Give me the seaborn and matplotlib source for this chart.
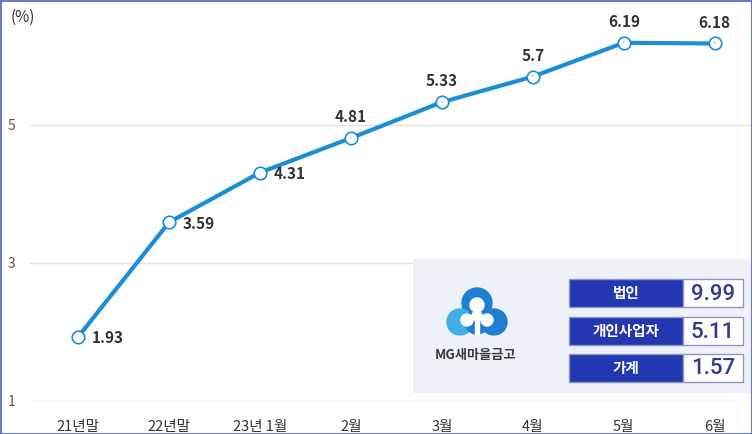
import pandas as pd
import matplotlib.pyplot as plt
import seaborn as sns
from matplotlib.patches import Rectangle, Circle

periods = ['21년말', '22년말', '23년 1월', '2월', '3월', '4월', '5월', '6월']
rates = [1.93, 3.59, 4.31, 4.81, 5.33, 5.7, 6.19, 6.18]
label_side = ['right', 'right', 'right', 'top', 'top', 'top', 'top', 'top']

box_names = ['법인', '개인사업자', '가계']
box_values = ['9.99', '5.11', '1.57']

sns.set_style('white')
plt.rcParams['font.family'] = ['Noto Sans CJK KR', 'DejaVu Sans']

df = pd.DataFrame({'period': periods, 'rate': rates})
df['x'] = range(len(df))

W, H = 752, 434
fig = plt.figure(figsize=(W / 100, H / 100), dpi=100)
ax = fig.add_axes([30 / W, 33 / H, 722 / W, 401 / H])

line_col = '#1b8ed6'
sns.lineplot(data=df, x='x', y='rate', ax=ax, color=line_col, linewidth=3,
             marker='o', markersize=9, markerfacecolor='white',
             markeredgecolor=line_col, markeredgewidth=1.2)

ax.set_xlim(-0.53, 7.41)
ax.set_ylim(1, 6.81)
ax.set_yticks([1, 3, 5])
ax.set_yticklabels(['1', '3', '5'], color='#555555', fontsize=10)
ax.tick_params(axis='y', length=0, pad=16)
for lab in ax.get_yticklabels():
    lab.set_horizontalalignment('left')
ax.set_xticks(df['x'])
ax.set_xticklabels(periods, fontsize=10.5, color='#333333')
ax.tick_params(axis='x', length=0, pad=13.5)
ax.set_xlabel('')
ax.set_ylabel('')
ax.grid(axis='y', color='#e3e3e3', linewidth=1)
for s in ax.spines.values():
    s.set_visible(False)

for xi, v, side in zip(df['x'], rates, label_side):
    txt = f'{v:g}'
    if side == 'right':
        ax.annotate(txt, (xi, v), xytext=(10, -1), textcoords='offset points',
                    ha='left', va='center', fontsize=11, fontweight='bold', color='#333333')
    else:
        ax.annotate(txt, (xi, v), xytext=(0, 15), textcoords='offset points',
                    ha='center', va='center', fontsize=11, fontweight='bold', color='#333333',
                    arrowprops=dict(arrowstyle='-', color='#9a9a9a', lw=0.6,
                                    shrinkA=6, shrinkB=4))

fig.text(11 / W, 1 - 17 / H, '(%)', fontsize=11, color='#333333', va='center')

# overlay panel in pixel coordinates
ov = fig.add_axes([0, 0, 1, 1], zorder=5)
ov.set_xlim(0, W)
ov.set_ylim(H, 0)
ov.axis('off')
bg = '#eef1f7'
ov.add_patch(Rectangle((413, 259), 339, 134, facecolor=bg, edgecolor='none'))

# logo: blue cloud ring with white trefoil inside
blue_a, blue_b = '#1f7fd0', '#3fb0e6'
ov.add_patch(Circle((477, 303), 15, color=blue_a))
ov.add_patch(Circle((460, 322), 13, color=blue_b))
ov.add_patch(Circle((494, 322), 13, color=blue_a))
ov.add_patch(Circle((477, 322), 12, color=blue_a))
ov.add_patch(Circle((477, 305), 7, color='white'))
ov.add_patch(Circle((467, 320), 6, color='white'))
ov.add_patch(Circle((487, 320), 6, color='white'))
ov.add_patch(Circle((477, 316), 5, color='white'))
ov.add_patch(Rectangle((475, 316), 4, 22, color='white'))
ov.add_patch(Rectangle((444, 336), 66, 8, color=bg))
ov.text(475, 355, 'MG새마을금고', ha='center', va='center', fontsize=9.5,
        fontweight='bold', color='#3a3a3a')

row_y = [293, 331, 368]
for yc, name, val in zip(row_y, box_names, box_values):
    ov.add_patch(Rectangle((569, yc - 14), 114, 28, facecolor='#2338b0',
                           edgecolor='#8c96c8', linewidth=1))
    ov.add_patch(Rectangle((683, yc - 14), 60, 28, facecolor='white',
                           edgecolor='#8c96c8', linewidth=1))
    ov.text(626, yc, name, ha='center', va='center', fontsize=10.5,
            fontweight='bold', color='white')
    ov.text(713, yc + 1, val, ha='center', va='center', fontsize=16,
            fontweight='medium', color='#2c3c94', family=['Roboto', 'DejaVu Sans'])

# screenshot frame
ov.add_patch(Rectangle((0.5, 0.5), W - 1, H - 1, fill=False, edgecolor='#6a7cbf', linewidth=1.5))

fig.savefig('out.png', dpi=100)
